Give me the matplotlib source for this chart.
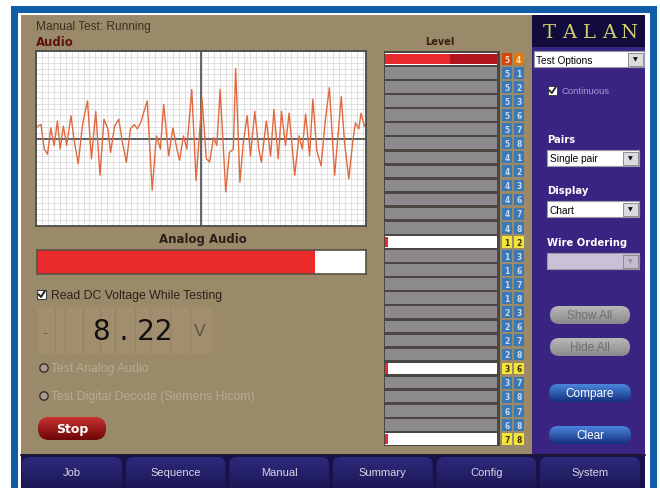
import numpy as np
import matplotlib
matplotlib.use("Agg")
import matplotlib.pyplot as plt
from matplotlib.patches import FancyBboxPatch, Rectangle, Circle
from matplotlib.colors import LinearSegmentedColormap

# ---------------- data ----------------
audio_t = [0, 0.5, 1.5, 2.5, 3.5, 4.5, 5.5, 6.5, 7.3, 8.3, 9.3, 10.6, 11.6, 12.8, 14.1, 15.6, 16.8,
           18.1, 19.4, 20.6, 21.8, 22.6, 23.8, 25.1, 26.1, 27.4, 28.6, 29.8, 30.7, 31.7, 33.7, 35.2,
           36.5, 37.7, 38.7, 40.2, 41.5, 42.7, 43.5, 44.7, 45.7, 47.2, 48.5, 49.5, 50.3, 51.6, 52.6,
           53.8, 54.8, 55.8, 57.5, 58.6, 59.8, 60.5, 61.8, 62.8, 64.0, 65.0, 66.3, 67.5, 68.3, 69.8,
           71.1, 72.1, 73.4, 74.4, 75.6, 76.7, 78.4, 79.7, 80.7, 81.7, 82.9, 83.9, 85.1, 86.4, 87.7,
           88.9, 90.5, 92.5, 93.5, 94.8, 96.0, 96.8, 97.8, 98.5, 99.5, 100]
audio_v = [0.12, 0.14, 0.16, -0.12, -0.18, 0.12, -0.08, 0.20, -0.12, 0.14, -0.08, 0.26, -0.03, -0.29,
           0.16, 0.43, -0.23, 0.31, -0.42, 0.22, 0.11, -0.16, 0.14, 0.22, -0.03, -0.27, 0.11, 0.16,
           0.11, 0.18, 0.43, -0.59, 0.03, -0.12, 0.39, -0.20, 0.12, -0.12, -0.25, 0.03, -0.12, 0.56,
           -0.48, 0.03, 0.46, -0.23, -0.27, 0.01, -0.08, 0.56, -0.61, -0.16, -0.12, 0.80, -0.50, -0.05,
           0.26, -0.20, 0.31, -0.12, -0.27, 0.20, -0.20, 0.33, -0.23, 0.31, -0.08, 0.29, -0.42, 0.03,
           -0.12, 0.28, -0.20, 0.45, -0.14, -0.31, 0.22, 0.58, -0.42, 0.48, -0.05, -0.46, -0.03, 0.18,
           0.11, 0.29, 0.14, 0.16]

analog_level = 0.845
voltage_text = "8 . 22"

pair_labels = ["54", "51", "52", "53", "56", "57", "58", "41", "42", "43", "46", "47", "48", "12",
               "13", "16", "17", "18", "23", "26", "27", "28", "36", "37", "38", "67", "68", "78"]
pair_level = {"54": 0.58, "12": 0.03, "36": 0.03, "78": 0.03}
pair_peak = {"54": 1.0}

tab_labels = ["Job", "Sequence", "Manual", "Summary", "Config", "System"]

# ---------------- figure ----------------
W, H = 660, 489
fig = plt.figure(figsize=(6.6, 4.89), dpi=100)
fig.patch.set_facecolor("white")
ui = fig.add_axes([0, 0, 1, 1])
ui.set_xlim(0, W)
ui.set_ylim(H, 0)
ui.axis("off")

SANS = "Liberation Sans"
TAN = "#9b8a6a"
PURPLE = "#3a2482"


def rect(x, y, w, h, fc, ec="none", lw=0, z=1, ax=ui):
    ax.add_patch(Rectangle((x, y), w, h, facecolor=fc, edgecolor=ec, linewidth=lw, zorder=z))


def grad_box(x, y, w, h, r, c1, c2, z=3, ec="none", lw=0):
    p = FancyBboxPatch((x, y), w, h, boxstyle=f"round,pad=0,rounding_size={r}",
                       facecolor="none", edgecolor=ec, linewidth=lw, zorder=z + 0.1)
    ui.add_patch(p)
    cmap = LinearSegmentedColormap.from_list("g", [c1, c2])
    g = np.linspace(0, 1, 50).reshape(-1, 1)
    im = ui.imshow(g, extent=(x, x + w, y + h, y), cmap=cmap, aspect="auto",
                   origin="upper", zorder=z, interpolation="bilinear")
    im.set_clip_path(p)


def px_rect(x0, y0, x1, y1):
    return [x0 / W, 1 - y1 / H, (x1 - x0) / W, (y1 - y0) / H]


# outer frame
rect(11, 7, 646, 490, "#0f5ca8")
rect(18, 14, 632, 480, "white")
# main panels
rect(21, 16, 511, 440, TAN)
rect(532, 16, 113, 440, PURPLE)
rect(532, 16, 113, 32, "#110c3c")
rect(21, 455, 624, 40, "#171348")
ui.plot([21, 645], [455.5, 455.5], color="#1e1830", lw=1.2, zorder=2)

# ---------------- left panel texts ----------------
ui.text(36, 27, "Manual Test: Running", fontsize=8.6, family=SANS, color="#3a3020", va="center")
ui.text(36, 43, "Audio", fontsize=8.5, family="DejaVu Sans", weight="bold", color="#5c1010", va="center")

# audio chart
ax = fig.add_axes(px_rect(36, 52, 366, 227))
ax.set_facecolor("white")
ax.set_xlim(0, 100)
ax.set_ylim(-1, 1)
ax.set_xticks(np.arange(0, 100.01, 1.8), minor=False)
ax.set_yticks(np.linspace(-1, 1, 31))
ax.grid(True, color="#dadada", lw=0.6)
ax.tick_params(length=0, labelbottom=False, labelleft=False)
for s in ax.spines.values():
    s.set_color("#4a4a4a")
    s.set_linewidth(1.3)
ax.axhline(0, color="#555555", lw=1.3)
ax.axvline(50, color="#555555", lw=1.3)
ax.plot(audio_t, audio_v, color="#e2683e", lw=1.0, solid_joinstyle="round")

ui.text(203, 239, "Analog Audio", fontsize=8.5, family="DejaVu Sans", weight="bold", color="#2a2018",
        ha="center", va="center")

# analog audio level bar
axb = fig.add_axes(px_rect(37, 251, 366, 275))
axb.set_xlim(0, 1)
axb.set_ylim(0, 1)
axb.set_facecolor("white")
axb.barh([0.5], [analog_level], height=1.0, color="#e82a2a")
axb.set_xticks([])
axb.set_yticks([])
for s in axb.spines.values():
    s.set_color("#5a5040")
    s.set_linewidth(1.2)

# checkbox read DC voltage
rect(37, 291, 9, 9, "white", "#404040", 0.8, z=3)
ui.plot([38.8, 41, 44.5], [295.5, 298, 292.5], color="#202020", lw=1.4, zorder=4)
ui.text(51, 296, "Read DC Voltage While Testing", fontsize=8.8, family=SANS, color="#2a2018", va="center")

# voltage readout
rect(37, 308, 175, 47, "#a08e6e", z=2)
for xx in [55, 65, 83, 100, 115, 135, 150, 170, 190]:
    ui.plot([xx, xx], [309, 354], color="#94825f", lw=0.8, zorder=2.5)
ui.text(45, 333, "-", fontsize=11, family=SANS, color="#6e5e44", va="center", ha="center")
ui.text(133, 332, voltage_text, fontsize=20, family="DejaVu Sans", color="#111111", va="center", ha="center")
ui.text(200, 332, "V", fontsize=12.5, family=SANS, color="#5e5040", va="center", ha="center")

# radio buttons
for yy, txt in [(369, "Test Analog Audio"), (397, "Test Digital Decode (Siemens Hicom)")]:
    ui.add_patch(Circle((44, yy), 4.2, facecolor="#a89a90", edgecolor="#3a3028", lw=1.0, zorder=3))
    ui.text(51, yy, txt, fontsize=8.8, family=SANS, color="#b9aa8e", va="center")

# stop button
grad_box(38, 418, 68, 23, 11, "#c83030", "#6e0606", z=3)
ui.text(72, 430, "Stop", fontsize=9, family="DejaVu Sans", weight="bold", color="white",
        ha="center", va="center", zorder=5)

# ---------------- level panel ----------------
ui.text(440, 42, "Level", fontsize=7, family="DejaVu Sans", weight="bold", color="#3a2010",
        ha="center", va="center")
n = len(pair_labels)
axl = fig.add_axes(px_rect(384, 52, 526, 447))
axl.set_xlim(-0.01, 1.26)
axl.set_ylim(n - 0.5, -0.55)
axl.axis("off")
rows = np.arange(n)
axl.add_patch(Rectangle((-0.01, -0.55), 1.035, n + 0.05, facecolor="#4a4642", edgecolor="none", zorder=0))
bg_col = ["white" if p in pair_level else "#8c8a8c" for p in pair_labels]
axl.barh(rows, [1.0] * n, left=0.0, height=0.82, color=bg_col, zorder=1)
pk = [pair_peak.get(p, 0) for p in pair_labels]
axl.barh(rows, pk, height=0.72, color="#b3151f", zorder=2)
lv = [pair_level.get(p, 0) for p in pair_labels]
axl.barh(rows, lv, height=0.72, color="#e62a2e", zorder=3)
for i, p in enumerate(pair_labels):
    if p == "54":
        cols, tc = ["#d24414", "#e07a10"], "#f8e0c0"
    elif p in pair_level:
        cols, tc = ["#f2e43c", "#f2e43c"], "#3a3000"
    else:
        cols, tc = ["#3c78b4", "#3c78b4"], "#c8dcf0"
    for j, ch in enumerate(p):
        x0 = 1.045 + j * 0.105
        axl.add_patch(Rectangle((x0, i - 0.42), 0.09, 0.84, facecolor=cols[j], edgecolor="none", zorder=2))
        axl.text(x0 + 0.045, i + 0.02, ch, fontsize=5.5, family="DejaVu Sans", weight="bold", color=tc,
                 ha="center", va="center", zorder=3)

# ---------------- right panel ----------------
for xx, ch in zip([549, 569, 589, 609, 629], "TALAN"):
    ui.text(xx, 33, ch, fontsize=14, family="DejaVu Serif", color="#d4cf6e", ha="center", va="center")


def dropdown(x, y, w, h, txt, enabled=True):
    fc = "white" if enabled else "#c9c1d6"
    tcol = "black" if enabled else "#a39bb4"
    rect(x, y, w, h, fc, "#9a9aa8", 0.8, z=3)
    rect(x + w - 16, y + 1.5, 14.5, h - 3, "#dcdce0" if enabled else "#c4bcd0", "#808080", 0.6, z=4)
    ui.text(x + w - 8.8, y + h / 2, "▼", fontsize=4.5, color="#101010" if enabled else "#9890a8",
            ha="center", va="center", zorder=5)
    ui.text(x + 2.5, y + h / 2 + 0.5, txt, fontsize=7.3, family=SANS, color=tcol, va="center", zorder=5)


dropdown(534, 52, 110, 16, "Test Options")
rect(548, 87, 9, 9, "white", "#303030", 0.6, z=3)
ui.plot([549.5, 551.8, 555.5], [91.5, 94, 88.5], color="#202020", lw=1.3, zorder=4)
ui.text(561, 92, "Continuous", fontsize=6.8, family=SANS, color="#a898d4", va="center")

for yy, lab in [(140, "Pairs"), (191, "Display"), (243, "Wire Ordering")]:
    ui.text(547, yy, lab, fontsize=7.2, family="DejaVu Sans", weight="bold", color="white", va="center")
dropdown(547, 151, 92, 16, "Single pair")
dropdown(547, 202, 92, 16, "Chart")
dropdown(547, 254, 92, 16, "", enabled=False)

for yy, lab in [(307, "Show All"), (339, "Hide All")]:
    grad_box(550, yy, 80, 18, 9, "#b8b8b8", "#8a8a8a", z=3)
    ui.text(590, yy + 9, lab, fontsize=8.5, family=SANS, color="#6e6e6e", ha="center", va="center", zorder=5)
for yy, lab in [(385, "Compare"), (427, "Clear")]:
    grad_box(549, yy, 82, 18, 9, "#4a86dc", "#14307e", z=3)
    ui.text(590, yy + 9, lab, fontsize=8.5, family=SANS, color="white", ha="center", va="center", zorder=5)

# ---------------- bottom tabs ----------------
for i, lab in enumerate(tab_labels):
    x0 = 22 + i * 103.6
    grad_box(x0, 458, 100, 40, 8, "#2e2a7c", "#16124a", z=3)
    ui.text(x0 + 50, 473.5, lab, fontsize=8, family=SANS, color="#d8d8e8", ha="center", va="center", zorder=5)

ui.set_xlim(0, W)
ui.set_ylim(H, 0)
fig.savefig("out.png", dpi=100)
